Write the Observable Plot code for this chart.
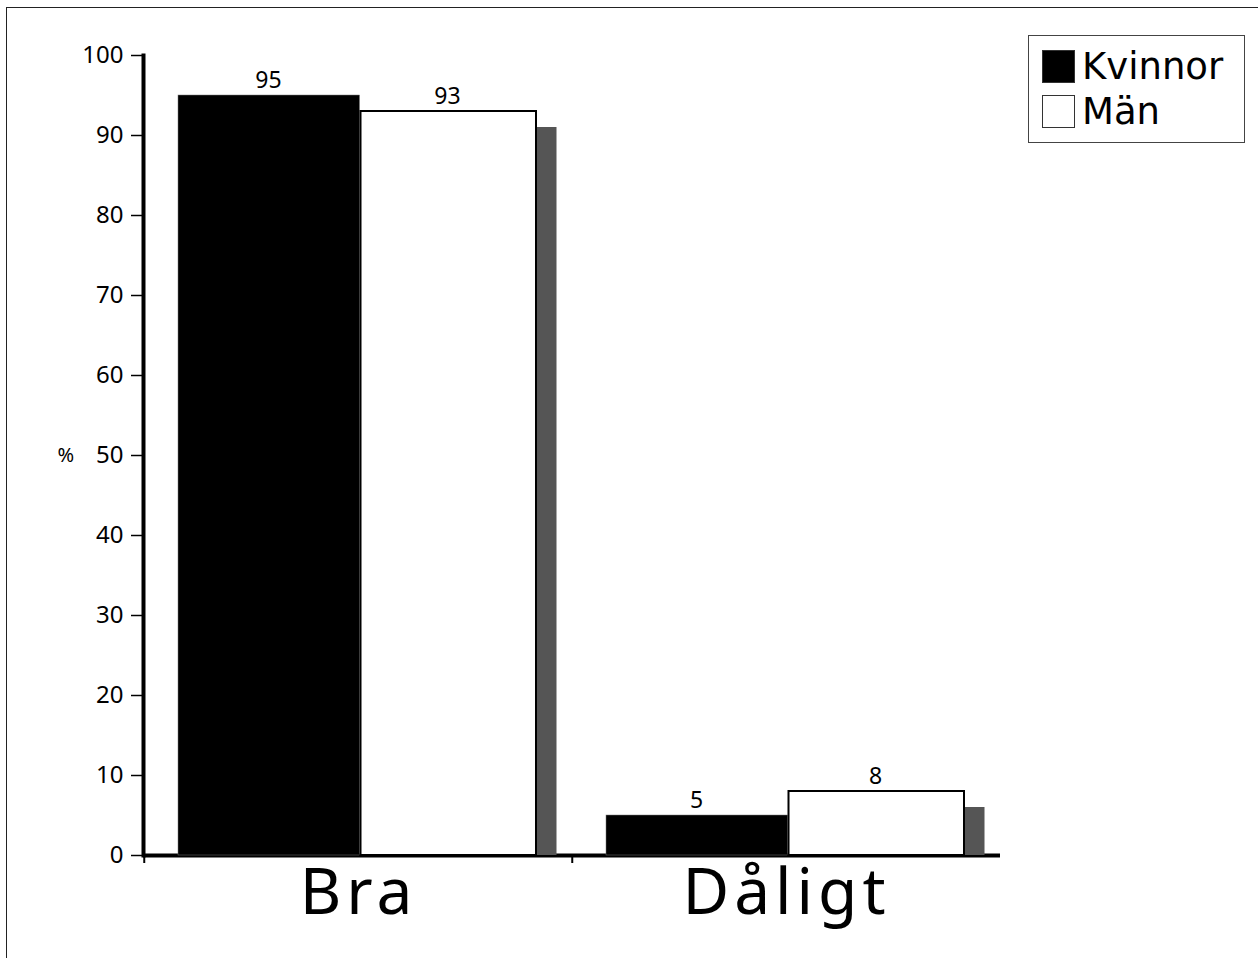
<!DOCTYPE html>
<html>
<head>
<meta charset="utf-8">
<script src="https://cdn.jsdelivr.net/npm/d3@7"></script>
<script src="https://cdn.jsdelivr.net/npm/@observablehq/plot@0.6"></script>
<style>
  html, body { margin: 0; padding: 0; background: #fff; }
  #wrap { position: relative; width: 1258px; height: 958px; overflow: hidden; font-family: "Noto Sans", sans-serif; }
  #border { position: absolute; left: 6px; top: 7px; width: 1400px; height: 1200px; border-top: 1.5px solid #222; border-left: 1.5px solid #222; }
  #chart { position: absolute; left: 0; top: 0; }
  #legend { position: absolute; left: 1028px; top: 35px; width: 217px; height: 108px; border: 1px solid #444; box-sizing: border-box; background: #fff; }
  .item { position: absolute; left: 13px; display: flex; align-items: center; font-family: "DejaVu Sans", sans-serif; font-size: 37px; color: #000; line-height: 1; }
  .sw { width: 33px; height: 33px; box-sizing: border-box; border: 1px solid #333; margin-right: 7px; }
  .xlab text { letter-spacing: 5px; }
</style>
</head>
<body>
<div id="wrap">
  <div id="border"></div>
  <div id="chart"></div>
  <div id="legend"></div>
</div>
<script>
const categories = ["Bra", "Dåligt"];
const kvinnor = [95, 5];
const man = [93, 8];
const shadow = [91, 6];
const yTicks = [0, 10, 20, 30, 40, 50, 60, 70, 80, 90, 100];
const seriesNames = ["Kvinnor", "Män"];
const seriesColors = ["#000000", "#ffffff"];
const yLabel = "%";

const rows = categories.map((c, i) => ({cat: c, k: kvinnor[i], m: man[i], s: shadow[i]}));
const bw = (1000 - 143) / 2;

const chart = Plot.plot({
  width: 1258,
  height: 958,
  marginLeft: 143,
  marginRight: 258,
  marginTop: 55,
  marginBottom: 103,
  style: {fontFamily: "'Noto Sans', sans-serif", background: "transparent", color: "#000"},
  x: {domain: categories, padding: 0},
  y: {domain: [0, 100]},
  marks: [
    Plot.ruleY([0], {strokeWidth: 4, stroke: "#000"}),
    Plot.barY(rows, {x: "cat", y: "s", fill: "#555555", insetLeft: 393, insetRight: 15.5}),
    Plot.barY(rows, {x: "cat", y: "k", fill: seriesColors[0], stroke: "#777", strokeWidth: 0.5, insetLeft: 34, insetRight: 212.5}),
    Plot.barY(rows, {x: "cat", y: "m", fill: seriesColors[1], stroke: "#000", strokeWidth: 2, insetLeft: 216.5, insetRight: 36}),
    Plot.text(rows, {x: "cat", y: "k", text: d => String(d.k), dx: -90, dy: -8, lineAnchor: "bottom", fontSize: 23}),
    Plot.text(rows, {x: "cat", y: "m", text: d => String(d.m), dx: 89, dy: -8, lineAnchor: "bottom", fontSize: 23}),
    Plot.frame({anchor: "left", strokeWidth: 4, stroke: "#000"}),
    Plot.axisY({ticks: yTicks, tickSize: 12, tickPadding: 8, fontSize: 24, strokeWidth: 1.5, label: null}),
    Plot.text([yLabel], {y: [50], frameAnchor: "left", dx: -86, fontSize: 20}),
    Plot.axisX({ticks: categories, tickSize: 8, strokeWidth: 2, tickFormat: () => "", dx: -bw / 2, label: null}),
    Plot.axisX({ticks: categories, tickSize: 0, tickPadding: 13, fontSize: 64, label: null, className: "xlab"})
  ]
});
document.getElementById("chart").appendChild(chart);

const legend = document.getElementById("legend");
seriesNames.forEach((name, i) => {
  const item = document.createElement("div");
  item.className = "item";
  item.style.top = (i === 0 ? 12 : 57) + "px";
  const sw = document.createElement("div");
  sw.className = "sw";
  sw.style.background = seriesColors[i];
  const t = document.createElement("span");
  t.textContent = name;
  item.appendChild(sw);
  item.appendChild(t);
  legend.appendChild(item);
});
</script>
</body>
</html>
